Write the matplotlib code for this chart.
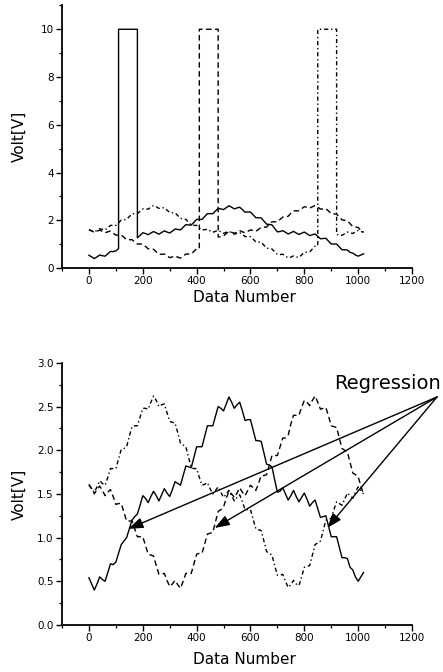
import numpy as np
import matplotlib
matplotlib.use("Agg")
import matplotlib.pyplot as plt
from matplotlib.ticker import MultipleLocator, FormatStrFormatter

# ---------------- data ----------------
data_number = list(range(0, 1030, 10))

volt_solid = [0.54, 0.47, 0.40, 0.47, 0.55, 0.52, 0.50, 0.60, 0.70, 0.69,
              0.72, 0.82, 0.92, 0.96, 1.00, 1.10, 1.20, 1.24, 1.27, 1.37,
              1.48, 1.45, 1.40, 1.47, 1.53, 1.48, 1.42, 1.49, 1.56, 1.51,
              1.47, 1.55, 1.64, 1.62, 1.60, 1.71, 1.82, 1.81, 1.80, 1.92,
              2.04, 2.04, 2.04, 2.16, 2.28, 2.28, 2.28, 2.39, 2.50, 2.48,
              2.45, 2.53, 2.61, 2.55, 2.48, 2.52, 2.55, 2.45, 2.34, 2.35,
              2.35, 2.23, 2.11, 2.11, 2.10, 1.97, 1.84, 1.83, 1.81, 1.66,
              1.52, 1.53, 1.57, 1.50, 1.43, 1.48, 1.54, 1.47, 1.41, 1.46,
              1.51, 1.44, 1.36, 1.40, 1.43, 1.33, 1.23, 1.24, 1.25, 1.13,
              1.01, 1.01, 1.01, 0.89, 0.77, 0.77, 0.76, 0.66, 0.63, 0.55,
              0.50, 0.55, 0.60]

volt_dashed = [1.61, 1.56, 1.50, 1.55, 1.59, 1.54, 1.48, 1.52, 1.55, 1.47,
               1.38, 1.39, 1.39, 1.29, 1.19, 1.19, 1.19, 1.10, 1.01, 1.01,
               1.01, 0.91, 0.81, 0.80, 0.79, 0.68, 0.58, 0.58, 0.59, 0.51,
               0.44, 0.47, 0.51, 0.46, 0.42, 0.50, 0.59, 0.59, 0.59, 0.70,
               0.81, 0.82, 0.82, 0.93, 1.04, 1.05, 1.06, 1.18, 1.30, 1.32,
               1.35, 1.45, 1.53, 1.50, 1.46, 1.51, 1.57, 1.52, 1.48, 1.54,
               1.60, 1.57, 1.54, 1.62, 1.71, 1.71, 1.72, 1.83, 1.94, 1.94,
               1.94, 2.04, 2.14, 2.14, 2.17, 2.30, 2.40, 2.40, 2.40, 2.49,
               2.57, 2.55, 2.51, 2.57, 2.62, 2.55, 2.47, 2.48, 2.49, 2.39,
               2.28, 2.27, 2.26, 2.14, 2.02, 2.00, 1.98, 1.86, 1.74, 1.72,
               1.70, 1.59, 1.50]

volt_dashdot = [1.60, 1.56, 1.52, 1.58, 1.65, 1.62, 1.60, 1.69, 1.79, 1.79,
                1.79, 1.90, 2.01, 2.02, 2.04, 2.16, 2.27, 2.28, 2.28, 2.38,
                2.48, 2.48, 2.47, 2.55, 2.62, 2.57, 2.50, 2.52, 2.53, 2.43,
                2.33, 2.32, 2.31, 2.20, 2.08, 2.06, 2.04, 1.92, 1.80, 1.79,
                1.79, 1.69, 1.60, 1.61, 1.63, 1.56, 1.50, 1.54, 1.58, 1.52,
                1.46, 1.50, 1.54, 1.48, 1.42, 1.46, 1.49, 1.41, 1.32, 1.32,
                1.32, 1.21, 1.10, 1.09, 1.08, 0.96, 0.84, 0.82, 0.80, 0.68,
                0.57, 0.57, 0.58, 0.50, 0.43, 0.46, 0.51, 0.47, 0.45, 0.55,
                0.66, 0.67, 0.68, 0.80, 0.92, 0.94, 0.96, 1.08, 1.20, 1.21,
                1.22, 1.32, 1.41, 1.39, 1.37, 1.44, 1.51, 1.48, 1.45, 1.52,
                1.58, 1.54, 1.50]

pulse_start = [110, 410, 850]
pulse_end = [180, 480, 920]
pulse_level = 10.0

arrow_tips_x = [146, 467, 885]
arrow_tips_y = [1.10, 1.11, 1.11]
arrow_origin = (1293, 2.61)
label_pos = (912, 2.70)

x_ticks = [0, 200, 400, 600, 800, 1000, 1200]
top_y_ticks = [0, 2, 4, 6, 8, 10]
bot_y_ticks = [0.0, 0.5, 1.0, 1.5, 2.0, 2.5, 3.0]

# ---------------- helpers ----------------
styles = [dict(ls='-'), dict(ls=(0, (4, 2.5))), dict(ls=(0, (3, 2, 1, 2)))]
series = [volt_solid, volt_dashed, volt_dashdot]


def with_pulse(x, y, s, e, lev):
    x = np.asarray(x, float)
    y = np.asarray(y, float)
    before = x <= s
    after = x >= e
    xp = np.concatenate([x[before], [s, e], x[after]])
    yp = np.concatenate([y[before], [lev, lev], y[after]])
    return xp, yp


def style_axes(ax, xlabel_y):
    for sp in ['top', 'right']:
        ax.spines[sp].set_visible(False)
    ax.spines['left'].set_linewidth(1.3)
    ax.spines['bottom'].set_linewidth(1.3)
    ax.set_xlim(-100, 1200)
    ax.set_xticks(x_ticks)
    ax.xaxis.set_minor_locator(MultipleLocator(100))
    ax.tick_params(which='major', direction='out', length=4, width=1.0,
                   labelsize=7.5, pad=2)
    ax.tick_params(which='minor', direction='out', length=2.5, width=0.9)
    ax.set_xlabel('Data Number', fontsize=11)
    ax.set_ylabel('Volt[V]', fontsize=11)
    ax.xaxis.set_label_coords(0.52, xlabel_y)
    ax.yaxis.set_label_coords(-0.10, 0.5)


fig = plt.figure(figsize=(4.43, 6.72), dpi=100)

# ---------------- top chart ----------------
ax1 = fig.add_axes([0.140, 0.601, 0.790, 0.391])
for y, st, s, e in zip(series, styles, pulse_start, pulse_end):
    xp, yp = with_pulse(data_number, y, s, e, pulse_level)
    ax1.plot(xp, yp, color='black', lw=1.0, solid_joinstyle='round', **st)
style_axes(ax1, -0.085)
ax1.set_ylim(0, 11)
ax1.set_yticks(top_y_ticks)
ax1.yaxis.set_minor_locator(MultipleLocator(1))

# ---------------- bottom chart ----------------
ax2 = fig.add_axes([0.140, 0.070, 0.790, 0.390])
for y, st in zip(series, styles):
    ax2.plot(data_number, y, color='black', lw=1.0, solid_joinstyle='round', **st)
style_axes(ax2, -0.105)
ax2.set_ylim(0, 3.0)
ax2.set_yticks(bot_y_ticks)
ax2.yaxis.set_major_formatter(FormatStrFormatter('%.1f'))
ax2.yaxis.set_minor_locator(MultipleLocator(0.25))

for tx, ty in zip(arrow_tips_x, arrow_tips_y):
    ax2.annotate('', xy=(tx, ty), xytext=arrow_origin,
                 arrowprops=dict(arrowstyle='-|>,head_length=0.9,head_width=0.32',
                                 mutation_scale=10, color='black', lw=1.0,
                                 shrinkA=0, shrinkB=0),
                 annotation_clip=False)
ax2.text(label_pos[0], label_pos[1], 'Regression', fontsize=14,
         ha='left', va='baseline', clip_on=False)

fig.savefig('out.png', dpi=100)
